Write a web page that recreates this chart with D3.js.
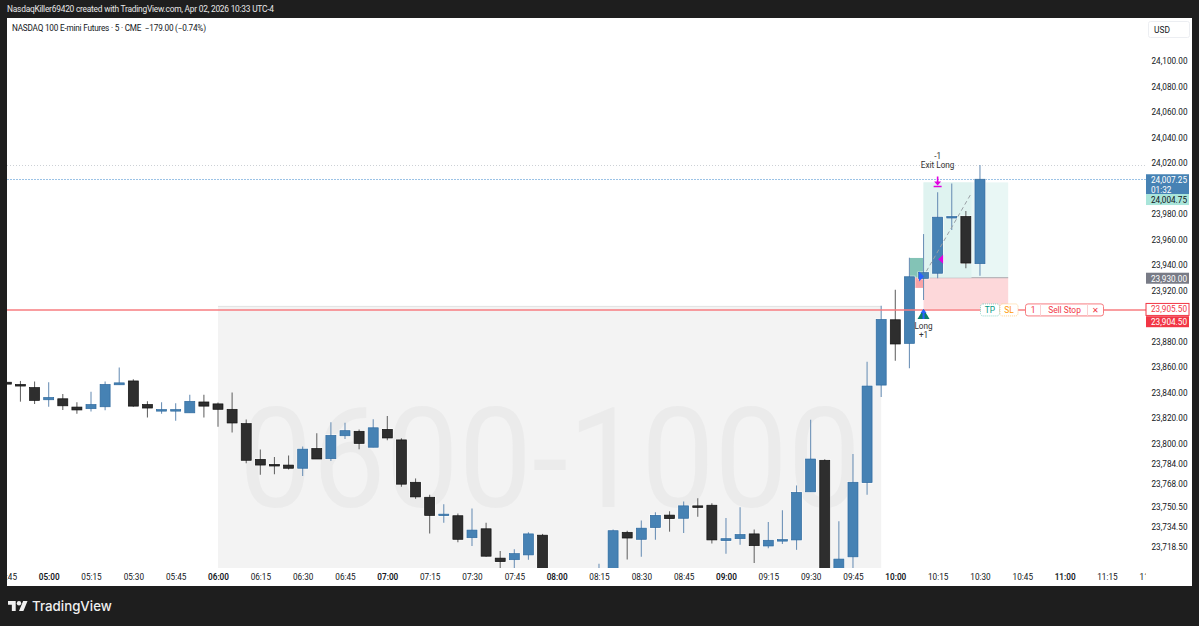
<!DOCTYPE html>
<html>
<head>
<meta charset="utf-8">
<script src="https://cdn.jsdelivr.net/npm/d3@7"></script>
<style>
  html, body { margin: 0; padding: 0; background: #1e1e1e; }
  svg { display: block; font-family: Roboto, sans-serif; }
  text { white-space: pre; }
  .tick text { fill: #131722; font-size: 8.2px; font-family: Roboto, sans-serif; }
</style>
</head>
<body>
<svg id="chart" width="1199" height="626"></svg>
<script>
// 5 minute bars, the ones that sit fully below the view are left out
const times = ['04:45','04:50','04:55','05:00','05:05','05:10','05:15','05:20','05:25','05:30','05:35','05:40','05:45','05:50','05:55',
  '06:00','06:05','06:10','06:15','06:20','06:25','06:30','06:35','06:40','06:45','06:50','06:55',
  '07:00','07:05','07:10','07:15','07:20','07:25','07:30','07:35','07:40','07:45','07:50','07:55',
  '08:15','08:20','08:25','08:30','08:35','08:40','08:45','08:50','08:55',
  '09:00','09:05','09:10','09:15','09:20','09:25','09:30','09:35','09:40','09:45','09:50','09:55',
  '10:00','10:05','10:10','10:15','10:20','10:25','10:30'];
const opens = [23848,23846.25,23843.75,23834.25,23835,23828.5,23827.25,23828.75,23846,23849,23830.5,23826,23826,23824,23832.5,
  23831,23826.75,23815.5,23787.5,23783.5,23783,23780.5,23796,23788,23806,23809.5,23797,
  23811,23802.75,23769.5,23757.75,23744,23743.25,23726,23733,23710,23708.75,23712.5,23728,
  23686,23695,23730.25,23724.75,23734,23743.75,23741.25,23751,23751.5,
  23723.75,23725.25,23729,23719.5,23724,23724.25,23762,23786.75,23690,23711,23769.25,23845.75,
  23897,23878.5,23929.5,23933.5,23977,23978,23941];
const highs = [23848,23849,23848.5,23848,23838.75,23832.25,23840.5,23848.5,23859.5,23850.25,23833,23832.25,23831.5,23838.25,23838.25,
  23832,23840,23818.75,23795.25,23789.25,23790.5,23797.5,23808,23816.5,23816.25,23811,23819,
  23821.5,23804,23772.5,23759.75,23752.25,23745,23749,23737.75,23715.5,23717,23730.25,23729,
  23705.5,23732.5,23731.5,23739.5,23746,23746.75,23754.5,23757,23753,
  23741.5,23750,23732.5,23738.25,23747.5,23767,23818.5,23787.5,23739,23791.75,23864,23908,
  23920.5,23945.75,23964.25,23997,24004,23982.25,24018.5];
const lows = [23846.5,23832.75,23831,23828.75,23826.25,23823.25,23825,23826,23846,23828.75,23820.25,23823.25,23817.75,23824,23820.25,
  23813,23808.5,23784.5,23775.5,23775.75,23779.5,23774.5,23787.75,23786.25,23803.5,23795.5,23797,
  23802.5,23766,23756.5,23729.25,23737.75,23722.5,23719.5,23711,23698,23698,23708.75,23688,
  23684,23692,23709,23711,23724.5,23730.75,23729.75,23742.5,23721.5,
  23713.5,23720.5,23706.25,23717.75,23721,23716.5,23762,23690,23688,23695,23759.75,23836.5,
  23864.75,23859,23912.5,23929.5,23967.5,23937.5,23931.5];
const closes = [23846.5,23845,23833.75,23836,23829.5,23826.25,23830.5,23846.25,23847.5,23829.25,23827.75,23826.5,23826.5,23833,23829.25,
  23826.75,23816,23786.75,23783,23782.25,23780.5,23795.5,23787.75,23806.25,23810,23800,23812.25,
  23804.25,23768,23758,23743.5,23744.5,23724.75,23732,23711.5,23707.25,23713.5,23729,23690,
  23698,23731.5,23725.75,23733.5,23743.5,23741,23751,23749.75,23724.25,
  23725.25,23728.5,23719.75,23724,23724.5,23761.5,23787.75,23695,23709.25,23769.5,23845,23897.25,
  23878,23930.75,23934,23977.5,23978,23941.5,24007.25];

const priceTicks = [24100,24080,24060,24040,24020,23980,23960,23940,23920,23880,23860,23840,23820,23800,23784,23768,23750.5,23734.5,23718.5];
const timeTicks = ['04:45','05:00','05:15','05:30','05:45','06:00','06:15','06:30','06:45','07:00','07:15','07:30','07:45','08:00','08:15','08:30','08:45','09:00','09:15','09:30','09:45','10:00','10:15','10:30','10:45','11:00','11:15','11:30'];

const lastPrice = 24007.25, tpPrice = 24004.75, entryPrice = 23930, stopPrice = 23905.5, bidPrice = 23904.5, dayHigh = 24018.5;

const minutes = s => +s.slice(0, 2) * 60 + +s.slice(3);
const money = d3.format(',.2f');

const plot = {left: 7, right: 1146, top: 18, bottom: 568, outerRight: 1192, outerBottom: 586};

const x = d3.scaleLinear().domain([minutes('06:00'), minutes('10:00')]).range([218, 895.3]);
const y = d3.scaleLinear().domain([24020, 23800]).range([163, 443.4]);

const svg = d3.select('#chart');
svg.append('rect').attr('width', 1199).attr('height', 626).attr('fill', '#1e1e1e');
svg.append('rect').attr('x', plot.left).attr('y', plot.top)
  .attr('width', plot.outerRight - plot.left).attr('height', plot.outerBottom - plot.top).attr('fill', '#fff');

const defs = svg.append('defs');
defs.append('clipPath').attr('id', 'pane').append('rect')
  .attr('x', plot.left).attr('y', plot.top).attr('width', plot.right - plot.left).attr('height', plot.bottom - plot.top);
defs.append('clipPath').attr('id', 'timeStrip').append('rect')
  .attr('x', plot.left).attr('y', plot.bottom).attr('width', plot.right - plot.left).attr('height', plot.outerBottom - plot.bottom);

const pane = svg.append('g').attr('clip-path', 'url(#pane)');

// session box
const sessionTop = 23907.5;
pane.append('rect').attr('x', x(minutes('06:00'))).attr('y', y(sessionTop))
  .attr('width', x(minutes('09:55')) - x(minutes('06:00'))).attr('height', plot.bottom - y(sessionTop))
  .attr('fill', '#f3f3f3');
pane.append('line').attr('x1', x(minutes('06:00'))).attr('x2', x(minutes('09:55')))
  .attr('y1', y(sessionTop)).attr('y2', y(sessionTop)).attr('stroke', '#e2e2e2');
pane.append('text').attr('x', 550).attr('y', 507).attr('text-anchor', 'middle')
  .attr('font-size', 139).attr('fill', '#ebebeb').attr('textLength', 622).attr('lengthAdjust', 'spacingAndGlyphs')
  .text('0600-1000');

// price lines
pane.append('line').attr('x1', plot.left).attr('x2', plot.right).attr('y1', Math.round(y(dayHigh)) + 0.5).attr('y2', Math.round(y(dayHigh)) + 0.5)
  .attr('stroke', '#cdd1d6').attr('stroke-dasharray', '1,2');
pane.append('line').attr('x1', plot.left).attr('x2', plot.right).attr('y1', Math.round(y(lastPrice)) + 0.5).attr('y2', Math.round(y(lastPrice)) + 0.5)
  .attr('stroke', '#9cc3e6').attr('stroke-dasharray', '2,1');

// position boxes
const posX0 = x(minutes('10:10')), posX1 = x(minutes('10:40'));
pane.append('rect').attr('x', posX0).attr('y', y(tpPrice)).attr('width', posX1 - posX0).attr('height', y(entryPrice) - y(tpPrice)).attr('fill', '#e9f7f5');
pane.append('rect').attr('x', posX0).attr('y', y(entryPrice)).attr('width', posX1 - posX0).attr('height', y(stopPrice) - y(entryPrice)).attr('fill', '#fdd8da');
pane.append('line').attr('x1', posX0).attr('x2', posX1).attr('y1', y(entryPrice)).attr('y2', y(entryPrice)).attr('stroke', '#a9a9ae');
const prevX0 = x(minutes('10:05'));
pane.append('rect').attr('x', prevX0).attr('y', y(23945.5)).attr('width', posX0 - prevX0).attr('height', y(entryPrice) - y(23945.5)).attr('fill', '#83c3b6');
pane.append('rect').attr('x', prevX0).attr('y', y(entryPrice)).attr('width', posX0 - prevX0).attr('height', y(23922) - y(entryPrice)).attr('fill', '#f9a3a6');
pane.append('rect').attr('x', posX0).attr('y', y(tpPrice)).attr('width', x(minutes('10:27')) - posX0).attr('height', y(entryPrice) - y(tpPrice)).attr('fill', '#dff3f0');

// candles
const bars = times.map((t, i) => ({t: minutes(t), o: opens[i], h: highs[i], l: lows[i], c: closes[i], up: closes[i] >= opens[i]}));
const bodyWidth = 10;
const candle = pane.selectAll('g.candle').data(bars).join('g').attr('class', 'candle');
candle.append('rect').attr('x', d => x(d.t) - bodyWidth / 2 - 1)
  .attr('y', d => y(Math.max(d.o, d.c)) - 1)
  .attr('width', bodyWidth + 2)
  .attr('height', d => Math.max(y(Math.min(d.o, d.c)) - y(Math.max(d.o, d.c)), 1.5) + 2)
  .attr('fill', '#fff').attr('opacity', 0.8);
candle.append('line').attr('x1', d => x(d.t)).attr('x2', d => x(d.t))
  .attr('y1', d => y(d.h)).attr('y2', d => y(d.l))
  .attr('stroke', d => d.up ? '#6f93b8' : '#6a6a6a').attr('stroke-width', 1.1);
candle.append('rect').attr('x', d => x(d.t) - bodyWidth / 2)
  .attr('y', d => y(Math.max(d.o, d.c)))
  .attr('width', bodyWidth)
  .attr('height', d => Math.max(y(Math.min(d.o, d.c)) - y(Math.max(d.o, d.c)), 1.5))
  .attr('fill', d => d.up ? '#4682b4' : '#2e2e2e')
  .attr('stroke', d => d.up ? '#2f6a9f' : '#111')
  .attr('stroke-width', 0.7);

// order line
const stopY = y(stopPrice) + 1;
pane.append('line').attr('x1', plot.left).attr('x2', plot.right).attr('y1', stopY).attr('y2', stopY)
  .attr('stroke', '#f77c80').attr('stroke-width', 1.4);
const tag = (px, w, stroke, color, label, dash) => {
  const g = pane.append('g');
  g.append('rect').attr('x', px).attr('y', stopY - 6).attr('width', w).attr('height', 12).attr('rx', 2.5)
    .attr('fill', '#fff').attr('stroke', stroke).attr('stroke-dasharray', dash);
  g.append('text').attr('x', px + w / 2).attr('y', stopY + 3).attr('text-anchor', 'middle')
    .attr('font-size', 8.4).attr('fill', color).text(label);
};
tag(980.5, 19, '#8fd6c8', '#089981', 'TP', '1,1');
tag(1000, 18, '#ffcf8a', '#ff9800', 'SL', '1,1');
tag(1025.5, 78, '#f77c80', '#f23645', 'Sell Stop', null);
[1040.5, 1087.5].forEach(px => pane.append('line').attr('x1', px).attr('x2', px)
  .attr('y1', stopY - 6).attr('y2', stopY + 6).attr('stroke', '#fbd0d2'));
pane.append('text').attr('x', 1033).attr('y', stopY + 3).attr('text-anchor', 'middle').attr('font-size', 8.4).attr('fill', '#f23645').text('1');
pane.append('text').attr('x', 1095.5).attr('y', stopY + 3).attr('text-anchor', 'middle').attr('font-size', 8.4).attr('fill', '#f23645').text('✕');

// trade path and markers
pane.append('line').attr('x1', x(minutes('10:11'))).attr('y1', y(23935))
  .attr('x2', x(minutes('10:27'))).attr('y2', y(23996.5)).attr('stroke', '#9aa0a6').attr('stroke-dasharray', '4,3');
const entryX = x(minutes('10:10')), exitX = x(minutes('10:15'));
pane.append('path').attr('d', d3.line()([[entryX - 4.5, y(23931) - 5], [entryX + 0.5, y(23931)], [entryX - 4.5, y(23931) + 5]]) + 'Z').attr('fill', '#2962ff');
pane.append('path').attr('d', d3.line()([[exitX + 5.5, y(23944.5) - 4.5], [exitX + 0.5, y(23944.5)], [exitX + 5.5, y(23944.5) + 4.5]]) + 'Z').attr('fill', '#e000e0');

const longY = y(stopPrice);
pane.append('path').attr('d', d3.line()([[entryX - 6, longY + 10], [entryX, longY], [entryX + 6, longY + 10]]) + 'Z').attr('fill', '#0b7f6b');
pane.append('path').attr('d', `M${entryX},${longY} l-3,4 h2 v6 h2 v-6 h2 Z`).attr('fill', '#2962ff');
const exitY = y(tpPrice);
pane.append('path').attr('d', `M${exitX - 4},${exitY + 4} h8 M${exitX},${exitY - 6} v7`).attr('stroke', '#e000e0').attr('stroke-width', 1.6);
pane.append('path').attr('d', `M${exitX - 3.5},${exitY - 1} h7 l-3.5,4 Z`).attr('fill', '#e000e0');

const note = (text, px, py) => pane.append('text').attr('x', px).attr('y', py).attr('text-anchor', 'middle')
  .attr('font-size', 8.2).attr('fill', '#333').text(text);
note('Long', entryX, 329);
note('+1', entryX, 338);
note('-1', exitX, 159);
note('Exit Long', exitX, 168);

// axes
const yAxis = d3.axisRight(y).tickValues(priceTicks).tickSize(0).tickPadding(5.5).tickFormat(money);
svg.append('g').attr('transform', `translate(${plot.right},0)`).call(yAxis)
  .call(g => g.select('.domain').remove());

const xAxis = d3.axisBottom(x).tickValues(timeTicks.map(minutes)).tickSize(0).tickPadding(0)
  .tickFormat(m => timeTicks[timeTicks.map(minutes).indexOf(m)]);
svg.append('g').attr('clip-path', 'url(#timeStrip)').append('g')
  .attr('transform', `translate(0,${plot.bottom + 6})`).call(xAxis)
  .call(g => g.select('.domain').remove())
  .selectAll('text')
  .style('font-weight', (d, i) => timeTicks[i].endsWith(':00') ? 600 : 400);

// price labels on the scale, dy is how far a label was pushed to avoid its neighbour
const label = (price, dy, h, fill, stroke, color, text, sub) => {
  const g = svg.append('g');
  const py = y(price) + dy;
  g.append('rect').attr('x', plot.right).attr('y', py - 6).attr('width', 43).attr('height', h)
    .attr('fill', fill).attr('stroke', stroke);
  g.append('text').attr('x', 1151).attr('y', py + 2.9).attr('font-size', 8.2).attr('fill', color).text(text);
  if (sub) g.append('text').attr('x', 1151).attr('y', py + 12.4).attr('font-size', 8.2).attr('fill', color).text(sub);
};
label(lastPrice, 1, 20, '#4682b4', 'none', '#fff', money(lastPrice), '01:32');
label(tpPrice, 17.6, 11, '#a9e5da', 'none', '#131722', money(tpPrice));
label(entryPrice, 1, 11, '#787b86', 'none', '#fff', money(entryPrice));
label(stopPrice, 0.5, 12, '#fff', '#f23645', '#f23645', money(stopPrice));
label(bidPrice, 12, 11, '#f23645', 'none', '#fff', money(bidPrice));

// currency button
svg.append('rect').attr('x', 1148.5).attr('y', 21.5).attr('width', 41).attr('height', 16).attr('rx', 2)
  .attr('fill', '#fff').attr('stroke', '#eceef2');
svg.append('text').attr('x', 1154).attr('y', 32.5).attr('font-size', 8.4).attr('fill', '#131722').text('USD');

// title and footer
svg.append('text').attr('x', 7).attr('y', 12).attr('font-size', 8.4).attr('fill', '#e8e8e8')
  .attr('textLength', 267).attr('lengthAdjust', 'spacing')
  .text('NasdaqKiller69420 created with TradingView.com, Apr 02, 2026 10:33 UTC-4');
svg.append('text').attr('x', 12).attr('y', 30.5).attr('font-size', 8.2).attr('fill', '#131722')
  .attr('textLength', 194).attr('lengthAdjust', 'spacing')
  .text('NASDAQ 100 E-mini Futures · 5 · CME  −179.00 (−0.74%)');

const logo = svg.append('g').attr('transform', 'translate(8,598.8) scale(0.55)').attr('fill', '#f0f0f0');
logo.append('path').attr('d', 'M14 22H7V11H0V4h14v18zM28 22h-8l7.5-18h8L28 22z');
logo.append('circle').attr('cx', 20).attr('cy', 8).attr('r', 4);
svg.append('text').attr('x', 32).attr('y', 611).attr('font-family', 'Inter').attr('font-weight', 500)
  .attr('font-size', 13.3).attr('fill', '#f0f0f0').text('TradingView');
</script>
</body>
</html>
